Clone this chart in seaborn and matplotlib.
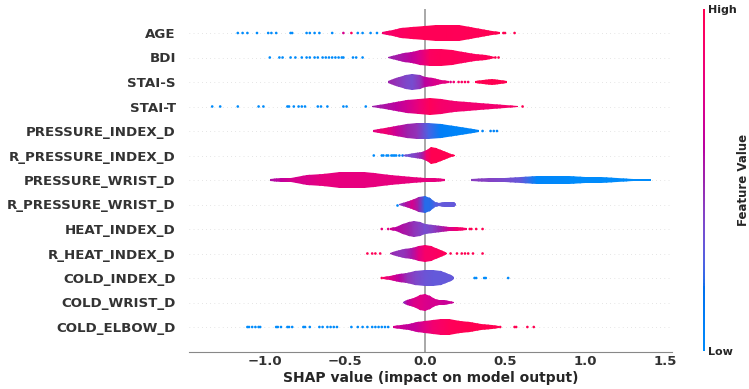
"""SHAP violin summary plot: feature impact on the model output."""

import matplotlib

matplotlib.use("Agg")
import matplotlib.pyplot as plt
import numpy as np
import pandas as pd
import seaborn as sns
from matplotlib.cm import ScalarMappable
from matplotlib.colors import ListedColormap
from matplotlib.path import Path

NAN = float("nan")

FEATURES = [
    "AGE", "BDI", "STAI-S", "STAI-T", "PRESSURE_INDEX_D", "R_PRESSURE_INDEX_D",
    "PRESSURE_WRIST_D", "R_PRESSURE_WRIST_D", "HEAT_INDEX_D", "R_HEAT_INDEX_D",
    "COLD_INDEX_D", "COLD_WRIST_D", "COLD_ELBOW_D",
]

# violin outlines: SHAP value, relative density (1 = widest), mean feature value (0 low .. 1 high)
AGE_SHAP = [-0.27, -0.2, -0.15, -0.08, 0.0, 0.07, 0.14, 0.21, 0.28, 0.35, 0.42, 0.47]
AGE_DENS = [0.12, 0.35, 0.55, 0.72, 0.88, 0.97, 1.0, 0.92, 0.75, 0.5, 0.27, 0.1]
AGE_FVAL = [0.85, 0.9, 0.92, 0.95, 0.97, 0.97, 0.97, 0.96, 0.97, 0.97, 0.98, 1.0]

BDI_SHAP = [-0.23, -0.18, -0.13, -0.08, -0.03, 0.03, 0.1, 0.17, 0.24, 0.31, 0.38, 0.44]
BDI_DENS = [0.12, 0.35, 0.55, 0.72, 0.92, 1.0, 0.98, 0.85, 0.62, 0.42, 0.27, 0.1]
BDI_FVAL = [0.5, 0.52, 0.56, 0.62, 0.72, 0.92, 0.95, 0.95, 0.93, 0.93, 0.95, 1.0]

STAIS_SHAP = [-0.23, -0.18, -0.12, -0.08, -0.03, 0.0, 0.05, 0.1, 0.15, 0.23, 0.31, 0.36, 0.42, 0.47, 0.51]
STAIS_DENS = [0.12, 0.45, 0.9, 1.0, 0.85, 0.65, 0.45, 0.25, 0.12, NAN, 0.12, 0.25, 0.33, 0.25, 0.12]
STAIS_FVAL = [0.5, 0.45, 0.38, 0.35, 0.45, 0.6, 0.7, 0.75, 0.8, 0.9, 1.0, 1.0, 1.0, 1.0, 1.0]

STAIT_SHAP = [-0.33, -0.25, -0.18, -0.11, -0.04, 0.03, 0.1, 0.18, 0.26, 0.34, 0.42, 0.5, 0.58]
STAIT_DENS = [0.12, 0.35, 0.6, 0.8, 0.92, 1.0, 0.88, 0.72, 0.6, 0.45, 0.33, 0.22, 0.1]
STAIT_FVAL = [0.5, 0.55, 0.6, 0.68, 0.8, 0.95, 0.88, 0.85, 0.85, 0.85, 0.85, 0.87, 0.9]

PI_SHAP = [-0.325, -0.25, -0.18, -0.11, -0.05, 0.02, 0.1, 0.18, 0.26, 0.34]
PI_DENS = [0.12, 0.4, 0.65, 0.88, 1.0, 0.97, 0.8, 0.55, 0.33, 0.12]
PI_FVAL = [0.75, 0.85, 0.65, 0.5, 0.45, 0.25, 0.08, 0.05, 0.05, 0.05]

RPI_SHAP = [-0.14, -0.1, -0.06, -0.02, 0.01, 0.04, 0.07, 0.1, 0.13, 0.16, 0.19]
RPI_DENS = [0.12, 0.22, 0.32, 0.45, 0.7, 1.0, 0.9, 0.65, 0.4, 0.2, 0.1]
RPI_FVAL = [0.3, 0.35, 0.4, 0.5, 0.85, 1.0, 1.0, 1.0, 1.0, 1.0, 1.0]

PW_SHAP = [-0.97, -0.9, -0.84, -0.74, -0.64, -0.53, -0.45, -0.38, -0.32, -0.22, -0.15, -0.08,
           0.0, 0.06, 0.125, 0.2, 0.29, 0.4, 0.5, 0.6, 0.7, 0.8, 0.9, 1.0, 1.1, 1.2, 1.3, 1.41]
PW_DENS = [0.12, 0.2, 0.3, 0.55, 0.77, 0.93, 1.0, 0.97, 0.88, 0.65, 0.5, 0.38,
           0.3, 0.22, 0.12, NAN, 0.12, 0.2, 0.28, 0.37, 0.43, 0.45, 0.43, 0.38, 0.32, 0.25, 0.18, 0.1]
PW_FVAL = [0.55, 0.62, 0.7, 0.72, 0.78, 0.78, 0.78, 0.78, 0.78, 0.78, 0.78, 0.78,
           0.78, 0.78, 0.78, 0.6, 0.42, 0.4, 0.36, 0.3, 0.03, 0.02, 0.0, 0.0, 0.0, 0.0, 0.0, 0.0]

RPW_SHAP = [-0.16, -0.12, -0.08, -0.04, 0.0, 0.03, 0.06, 0.09, 0.12, 0.15, 0.18, 0.195]
RPW_DENS = [0.12, 0.3, 0.6, 0.85, 1.0, 0.75, 0.35, 0.22, 0.25, 0.3, 0.25, 0.12]
RPW_FVAL = [0.4, 0.55, 0.7, 0.5, 0.2, 0.2, 0.25, 0.3, 0.3, 0.3, 0.3, 0.3]

HI_SHAP = [-0.22, -0.18, -0.14, -0.1, -0.07, -0.03, 0.0, 0.05, 0.1, 0.15, 0.2, 0.26]
HI_DENS = [0.12, 0.28, 0.6, 0.88, 1.0, 0.85, 0.62, 0.48, 0.4, 0.3, 0.2, 0.1]
HI_FVAL = [0.7, 0.6, 0.55, 0.5, 0.45, 0.4, 0.35, 0.4, 0.5, 0.7, 0.85, 0.9]

RHI_SHAP = [-0.22, -0.18, -0.13, -0.08, -0.04, 0.0, 0.04, 0.08, 0.11, 0.14]
RHI_DENS = [0.12, 0.3, 0.5, 0.65, 0.85, 1.0, 0.85, 0.5, 0.3, 0.12]
RHI_FVAL = [0.5, 0.45, 0.45, 0.55, 0.75, 0.88, 0.9, 0.92, 0.95, 0.95]

CI_SHAP = [-0.26, -0.22, -0.16, -0.11, -0.06, 0.0, 0.05, 0.1, 0.13, 0.16, 0.18]
CI_DENS = [0.12, 0.25, 0.45, 0.65, 0.85, 0.95, 1.0, 0.9, 0.6, 0.35, 0.12]
CI_FVAL = [0.9, 0.75, 0.6, 0.45, 0.38, 0.32, 0.3, 0.3, 0.3, 0.3, 0.3]

CW_SHAP = [-0.14, -0.11, -0.07, -0.03, 0.0, 0.03, 0.06, 0.09, 0.12, 0.15, 0.18]
CW_DENS = [0.12, 0.3, 0.55, 0.85, 1.0, 0.75, 0.4, 0.28, 0.25, 0.2, 0.1]
CW_FVAL = [0.4, 0.6, 0.72, 0.75, 0.72, 0.7, 0.7, 0.68, 0.65, 0.65, 0.65]

CE_SHAP = [-0.2, -0.15, -0.1, -0.05, 0.0, 0.05, 0.1, 0.15, 0.22, 0.28, 0.35, 0.42, 0.46]
CE_DENS = [0.12, 0.25, 0.38, 0.55, 0.72, 0.9, 1.0, 0.95, 0.78, 0.6, 0.38, 0.2, 0.1]
CE_FVAL = [0.7, 0.65, 0.62, 0.65, 0.75, 0.85, 0.9, 0.95, 0.97, 1.0, 1.0, 1.0, 1.0]

# single samples outside the violins: SHAP value and feature value
AGE_DOTS = [-1.17, -1.14, -1.11, -1.05, -0.98, -0.96, -0.93, -0.84, -0.83, -0.74, -0.72, -0.69,
            -0.66, -0.58, -0.51, -0.46, -0.42, -0.39, -0.34, -0.3, 0.49, 0.5, 0.56]
AGE_DOTS_FVAL = [0.0, 0.0, 0.0, 0.0, 0.0, 0.0, 0.0, 0.0, 0.0, 0.0, 0.0, 0.0,
                 0.0, 0.0, 0.7, 0.95, 0.0, 0.0, 0.0, 0.0, 1.0, 1.0, 1.0]

BDI_DOTS = [-0.97, -0.91, -0.89, -0.84, -0.81, -0.77, -0.74, -0.72, -0.69, -0.67, -0.64, -0.62,
            -0.6, -0.58, -0.56, -0.54, -0.52, -0.51, -0.45, -0.43, -0.39, 0.44, 0.46]
BDI_DOTS_FVAL = [0.0, 0.0, 0.0, 0.0, 0.0, 0.0, 0.0, 0.0, 0.0, 0.0, 0.0, 0.0,
                 0.0, 0.0, 0.0, 0.0, 0.0, 0.0, 0.0, 0.0, 0.0, 1.0, 1.0]

STAIS_DOTS = [0.16, 0.18, 0.21, 0.23, 0.25, 0.27]
STAIS_DOTS_FVAL = [0.75, 0.85, 0.9, 0.9, 0.95, 0.9]

STAIT_DOTS = [-1.33, -1.28, -1.17, -1.04, -1.01, -0.86, -0.85, -0.82, -0.79, -0.77, -0.75,
              -0.67, -0.65, -0.61, -0.51, -0.49, -0.37, 0.61]
STAIT_DOTS_FVAL = [0.0, 0.0, 0.0, 0.0, 0.0, 0.0, 0.0, 0.0, 0.0, 0.0, 0.0,
                   0.0, 0.0, 0.0, 0.0, 0.0, 0.0, 1.0]

PI_DOTS = [0.36, 0.41, 0.43, 0.45]
PI_DOTS_FVAL = [0.05, 0.05, 0.05, 0.05]

RPI_DOTS = [-0.32, -0.27, -0.26, -0.24, -0.23, -0.21, -0.2, -0.19, -0.18, -0.16, -0.14]
RPI_DOTS_FVAL = [0.0, 0.0, 0.0, 0.0, 0.0, 0.0, 0.0, 0.0, 0.0, 0.05, 0.1]

RPW_DOTS = [-0.175]
RPW_DOTS_FVAL = [0.05]

HI_DOTS = [-0.27, -0.23, 0.28, 0.29, 0.32, 0.36]
HI_DOTS_FVAL = [0.8, 0.75, 0.95, 1.0, 1.0, 1.0]

RHI_DOTS = [-0.36, -0.33, -0.31, -0.28, 0.16, 0.2, 0.23, 0.25, 0.27, 0.3, 0.36]
RHI_DOTS_FVAL = [1.0, 0.95, 1.0, 0.95, 1.0, 1.0, 1.0, 1.0, 1.0, 1.0, 1.0]

CI_DOTS = [-0.27, 0.31, 0.32, 0.37, 0.38, 0.52]
CI_DOTS_FVAL = [0.95, 0.0, 0.0, 0.0, 0.0, 0.0]

CE_DOTS = [-1.11, -1.1, -1.08, -1.06, -1.04, -1.03, -0.93, -0.92, -0.9, -0.86, -0.85, -0.83,
           -0.76, -0.75, -0.72, -0.66, -0.64, -0.61, -0.59, -0.57, -0.55, -0.46, -0.42, -0.39,
           -0.36, -0.33, -0.31, -0.29, -0.27, -0.25, -0.23, 0.47, 0.56, 0.57, 0.64, 0.68]
CE_DOTS_FVAL = [0.0, 0.0, 0.0, 0.0, 0.0, 0.0, 0.0, 0.0, 0.0, 0.0, 0.0, 0.0,
                0.0, 0.0, 0.0, 0.0, 0.0, 0.0, 0.0, 0.0, 0.0, 0.0, 0.0, 0.0,
                0.0, 0.0, 0.0, 0.0, 0.0, 0.0, 0.05, 1.0, 1.0, 1.0, 1.0, 1.0]

VIOLINS = {
    "AGE": (AGE_SHAP, AGE_DENS, AGE_FVAL),
    "BDI": (BDI_SHAP, BDI_DENS, BDI_FVAL),
    "STAI-S": (STAIS_SHAP, STAIS_DENS, STAIS_FVAL),
    "STAI-T": (STAIT_SHAP, STAIT_DENS, STAIT_FVAL),
    "PRESSURE_INDEX_D": (PI_SHAP, PI_DENS, PI_FVAL),
    "R_PRESSURE_INDEX_D": (RPI_SHAP, RPI_DENS, RPI_FVAL),
    "PRESSURE_WRIST_D": (PW_SHAP, PW_DENS, PW_FVAL),
    "R_PRESSURE_WRIST_D": (RPW_SHAP, RPW_DENS, RPW_FVAL),
    "HEAT_INDEX_D": (HI_SHAP, HI_DENS, HI_FVAL),
    "R_HEAT_INDEX_D": (RHI_SHAP, RHI_DENS, RHI_FVAL),
    "COLD_INDEX_D": (CI_SHAP, CI_DENS, CI_FVAL),
    "COLD_WRIST_D": (CW_SHAP, CW_DENS, CW_FVAL),
    "COLD_ELBOW_D": (CE_SHAP, CE_DENS, CE_FVAL),
}
DOTS = {
    "AGE": (AGE_DOTS, AGE_DOTS_FVAL),
    "BDI": (BDI_DOTS, BDI_DOTS_FVAL),
    "STAI-S": (STAIS_DOTS, STAIS_DOTS_FVAL),
    "STAI-T": (STAIT_DOTS, STAIT_DOTS_FVAL),
    "PRESSURE_INDEX_D": (PI_DOTS, PI_DOTS_FVAL),
    "R_PRESSURE_INDEX_D": (RPI_DOTS, RPI_DOTS_FVAL),
    "R_PRESSURE_WRIST_D": (RPW_DOTS, RPW_DOTS_FVAL),
    "HEAT_INDEX_D": (HI_DOTS, HI_DOTS_FVAL),
    "R_HEAT_INDEX_D": (RHI_DOTS, RHI_DOTS_FVAL),
    "COLD_INDEX_D": (CI_DOTS, CI_DOTS_FVAL),
    "COLD_ELBOW_D": (CE_DOTS, CE_DOTS_FVAL),
}

HALF = 0.34  # half height of the widest violin, in rows
TEXT = "#333333"


def red_blue() -> ListedColormap:
    # SHAP's red/blue map: straight path in LCH space with a darker middle
    n = 100
    light = np.r_[np.linspace(54, 40, n // 2), np.linspace(40, 54, n // 2)]
    chroma = np.linspace(70, 90, n)
    hue = np.linspace(4.6588, 0.35470565 + 2 * np.pi, n)
    a, b = chroma * np.cos(hue), chroma * np.sin(hue)
    fy = (light + 16) / 116
    f = np.stack([fy + a / 500, fy, fy - b / 200])
    xyz = np.where(f > 6 / 29, f ** 3, 3 * (6 / 29) ** 2 * (f - 4 / 29))
    xyz *= np.array([[0.95047], [1.0], [1.08883]])
    m = np.array([[3.2406, -1.5372, -0.4986],
                  [-0.9689, 1.8758, 0.0415],
                  [0.0557, -0.2040, 1.0570]])
    lin = np.clip(m @ xyz, 0, 1)
    rgb = np.where(lin > 0.0031308, 1.055 * lin ** (1 / 2.4) - 0.055, 12.92 * lin)
    return ListedColormap(np.clip(rgb, 0, 1).T)


CMAP = red_blue()


def main() -> None:
    sns.set_style("white")
    fig = plt.figure(figsize=(7.49, 3.89), dpi=100)
    ax = fig.add_axes([189 / 749, 1 - 351.5 / 389, 483 / 749, 343 / 389])

    dots = pd.DataFrame({
        "row": [FEATURES.index(name) for name in DOTS for _ in DOTS[name][0]],
        "shap": [v for name in DOTS for v in DOTS[name][0]],
        "value": [v for name in DOTS for v in DOTS[name][1]],
    })
    sns.stripplot(data=dots, x="shap", y="row", hue="value", orient="h", native_scale=True,
                  palette=CMAP, hue_norm=(0, 1), jitter=False, size=1.9,
                  linewidth=0, legend=False, ax=ax, zorder=1)

    for row, name in enumerate(FEATURES):
        ax.axhline(row, color="#cccccc", lw=0.5, dashes=(1, 5), zorder=-1)
        xs, dens, fval = (np.asarray(v, dtype=float) for v in VIOLINS[name])
        half = dens * HALF
        body = ax.fill_between(xs, row - half, row + half, color="none", linewidth=0)
        outline = Path.make_compound_path(*body.get_paths())
        mesh = ax.pcolormesh(np.vstack([xs, xs]),
                             np.vstack([np.full_like(xs, row - HALF), np.full_like(xs, row + HALF)]),
                             np.vstack([fval, fval]), cmap=CMAP, vmin=0, vmax=1,
                             shading="gouraud", zorder=2)
        mesh.set_clip_path(outline, ax.transData)

    ax.axvline(0, color="#999999", lw=1.2, zorder=-1)
    ax.set_xlim(-1.475, 1.544)
    ax.set_ylim(13, -1)
    ax.set_xticks([-1.0, -0.5, 0.0, 0.5, 1.0, 1.5])
    ax.set_yticks(range(len(FEATURES)), FEATURES)
    for side in ("top", "right", "left"):
        ax.spines[side].set_visible(False)
    ax.spines["bottom"].set_color("#888888")
    ax.spines["bottom"].set_linewidth(0.8)
    ax.tick_params(axis="y", length=0, pad=9.5, labelsize=9.6, labelcolor=TEXT)
    ax.tick_params(axis="x", length=0, pad=2.5, labelsize=9.5, labelcolor=TEXT)
    for lab in ax.get_xticklabels() + ax.get_yticklabels():
        lab.set_fontweight("bold")
    ax.set_ylabel("")
    ax.set_xlabel("SHAP value (impact on model output)", fontsize=10,
                  fontweight="bold", labelpad=2)

    cax = fig.add_axes([702.5 / 749, 1 - 351 / 389, 2.5 / 749, 342 / 389])
    cb = fig.colorbar(ScalarMappable(cmap=CMAP), cax=cax, ticks=[0, 1])
    cb.set_ticklabels(["Low", "High"])
    cb.outline.set_visible(False)
    cax.tick_params(length=0, pad=2, labelsize=8)
    for lab in cax.get_yticklabels():
        lab.set_fontweight("bold")
    cb.set_label("Feature Value", fontsize=8.5, fontweight="bold", labelpad=0)

    fig.savefig("out.png", dpi=100)
    plt.close(fig)


if __name__ == "__main__":
    main()
